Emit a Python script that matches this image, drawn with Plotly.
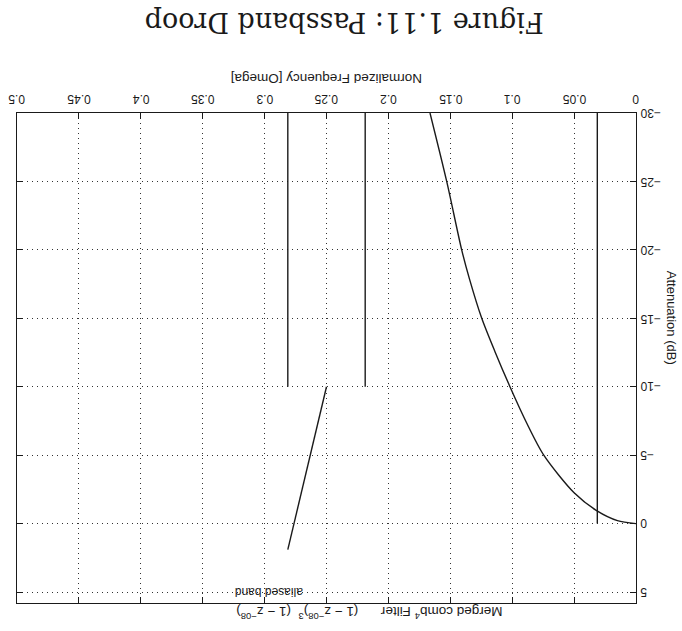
import plotly.graph_objects as go

# ---- data ----
curve_freq = [0.0, 0.015, 0.0318, 0.05, 0.0745, 0.0883, 0.1018, 0.1139, 0.1246, 0.1346, 0.1408, 0.1529, 0.1664]
curve_db = [0.0, -0.22, -0.95, -2.25, -5.0, -7.35, -10.0, -12.56, -15.0, -17.9, -20.0, -25.0, -30.0]

passband_edge_freq = [0.03125, 0.03125]
passband_edge_db = [-30.0, 0.0]

alias_edge1_freq = [0.21875, 0.21875]
alias_edge2_freq = [0.28125, 0.28125]
alias_edge_db = [-30.0, -10.0]

alias_line_freq = [0.25, 0.28125]
alias_line_db = [-10.0, 1.9]

x_ticks = [0, 0.05, 0.1, 0.15, 0.2, 0.25, 0.3, 0.35, 0.4, 0.45, 0.5]
x_ticklabels = ["0", "0.05", "0.1", "0.15", "0.2", "0.25", "0.3", "0.35", "0.4", "0.45", "0.5"]
y_ticks = [-30, -25, -20, -15, -10, -5, 0, 5]
y_ticklabels = ["\u221230", "\u221225", "\u221220", "\u221215", "\u221210", "\u22125", "0", "5"]

title_text = "Figure 1.11: Passband Droop"
xlabel_text = "Normalized Frequency [Omega]"
ylabel_text = "Attenuation (dB)"
legend_text = ("Merged comb<sup>4</sup> Filter\u00a0\u00a0\u00a0\u00a0\u00a0\u00a0"
               "(1 \u2212 z<sup>\u221208</sup>)<sup>3</sup>\u00a0\u00a0(1 \u2212 z<sup>\u221208</sup>)")
alias_label = "aliased band"

SANS = "Liberation Sans, Arial, sans-serif"
SERIF = "DejaVu Serif, Liberation Serif, serif"
INK = "#1a1a1a"
GRID = "#333333"

fig = go.Figure()
line_style = dict(color=INK, width=1.4)
fig.add_trace(go.Scatter(x=curve_freq, y=curve_db, mode="lines",
                         line=dict(color=INK, width=1.4, shape="spline", smoothing=0.8),
                         showlegend=False))
fig.add_trace(go.Scatter(x=passband_edge_freq, y=passband_edge_db, mode="lines",
                         line=line_style, showlegend=False))
fig.add_trace(go.Scatter(x=alias_edge1_freq, y=alias_edge_db, mode="lines",
                         line=line_style, showlegend=False))
fig.add_trace(go.Scatter(x=alias_edge2_freq, y=alias_edge_db, mode="lines",
                         line=line_style, showlegend=False))
fig.add_trace(go.Scatter(x=alias_line_freq, y=alias_line_db, mode="lines",
                         line=line_style, showlegend=False))

fig.update_layout(
    width=682, height=631,
    margin=dict(l=17, r=46, t=113, b=28, pad=0),
    paper_bgcolor="white", plot_bgcolor="white",
    showlegend=False,
    font=dict(family=SANS, color=INK, size=12),
)
axis_common = dict(
    tickmode="array", showticklabels=False,
    ticks="inside", ticklen=6, tickcolor=INK, tickwidth=1,
    showline=True, linecolor=INK, linewidth=1.4, mirror="ticks",
    showgrid=True, gridcolor=GRID, gridwidth=1, griddash="1px,4px",
    zeroline=False,
)
fig.update_xaxes(range=[0.5, 0], side="top", tickvals=x_ticks, **axis_common)
fig.update_yaxes(range=[5.8, -30], side="right", tickvals=y_ticks, **axis_common)

ann = []
# tick labels (upside down, like the rotated scan)
for v, t in zip(x_ticks, x_ticklabels):
    ann.append(dict(text=t, xref="x", yref="paper", x=v, y=1.0, yshift=14,
                    xanchor="center", yanchor="middle", textangle=180, showarrow=False,
                    font=dict(family=SANS, size=12, color=INK)))
for v, t in zip(y_ticks, y_ticklabels):
    ann.append(dict(text=t, xref="paper", yref="y", x=1.0, y=v, xshift=2,
                    xanchor="left", yanchor="middle", textangle=180, showarrow=False,
                    font=dict(family=SANS, size=12, color=INK)))

ann.append(dict(text=title_text, xref="paper", yref="paper", x=0.528, y=1.185,
                xanchor="center", yanchor="middle", textangle=180, showarrow=False,
                font=dict(family=SERIF, size=27, color=INK)))
ann.append(dict(text=xlabel_text, xref="paper", yref="paper", x=0.5, y=1.0,
                yshift=34, xanchor="center", yanchor="middle", textangle=180, showarrow=False,
                font=dict(family=SANS, size=13.5, color=INK)))
ann.append(dict(text=ylabel_text, xref="paper", yref="paper", x=1.0566, y=0.582,
                xanchor="center", yanchor="middle", textangle=90, showarrow=False,
                font=dict(family=SANS, size=13, color=INK)))
ann.append(dict(text=legend_text, xref="paper", yref="paper", x=0.569, y=-0.02,
                xanchor="center", yanchor="middle", textangle=180, showarrow=False,
                font=dict(family=SANS, size=13.5, color=INK)))
ann.append(dict(text=alias_label, xref="x", yref="y", x=0.2969, y=5,
                xanchor="center", yanchor="middle", textangle=180, showarrow=False,
                font=dict(family=SANS, size=12, color=INK)))
fig.update_layout(annotations=ann)

fig.write_html("out.html")
